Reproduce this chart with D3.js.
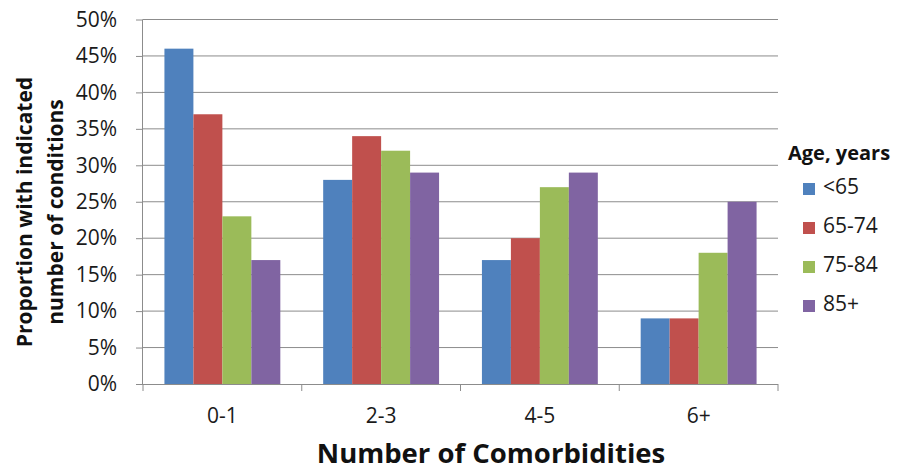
<!DOCTYPE html>
<html>
<head>
<meta charset="utf-8">
<script src="https://cdn.jsdelivr.net/npm/d3@7"></script>
<style>
  body { margin: 0; background: #fff; }
  svg { display: block; font-family: "Open Sans", Lato, sans-serif; }
</style>
</head>
<body>
<svg id="chart" width="899" height="473"></svg>
<script>
// Comorbidity counts by age band
const categories = ["0-1", "2-3", "4-5", "6+"];
const seriesNames = ["<65", "65-74", "75-84", "85+"];
const under65 = [46, 28, 17, 9];
const age65to74 = [37, 34, 20, 9];
const age75to84 = [23, 32, 27, 18];
const age85plus = [17, 29, 29, 25];
const yTicks = [0, 5, 10, 15, 20, 25, 30, 35, 40, 45, 50];
const colors = ["#4F81BD", "#C0504D", "#9BBB59", "#8064A2"];

const seriesValues = [under65, age65to74, age75to84, age85plus];
const rows = categories.map((c, i) => ({
  category: c,
  values: seriesNames.map((s, j) => ({ series: s, value: seriesValues[j][i], idx: j }))
}));

const svg = d3.select("#chart");
const plotLeft = 143, plotRight = 778, plotTop = 19.5, plotBottom = 384;

const x0 = d3.scaleBand().domain(categories).range([plotLeft, plotRight]).padding(0);
const bw = x0.bandwidth();
const x1 = d3.scaleBand().domain(seriesNames).range([bw * 0.135, bw * 0.865]).padding(0);
const y = d3.scaleLinear().domain([0, 50]).range([plotBottom, plotTop]);
const color = d3.scaleOrdinal().domain(seriesNames).range(colors);

const gridColor = "#8c8c8c";
const textColor = "#1a1a1a";

// horizontal gridlines
svg.append("g")
  .selectAll("line")
  .data(yTicks.filter(d => d > 0))
  .join("line")
  .attr("x1", plotLeft).attr("x2", plotRight)
  .attr("y1", d => y(d)).attr("y2", d => y(d))
  .attr("stroke", gridColor).attr("stroke-width", 1);

// bars
svg.append("g")
  .selectAll("g")
  .data(rows)
  .join("g")
  .attr("transform", d => `translate(${x0(d.category)},0)`)
  .selectAll("rect")
  .data(d => d.values)
  .join("rect")
  .attr("x", d => x1(d.series))
  .attr("width", x1.bandwidth())
  .attr("y", d => y(d.value))
  .attr("height", d => y(0) - y(d.value))
  .attr("fill", d => color(d.series));

// y axis
const yAxis = svg.append("g")
  .attr("transform", `translate(${plotLeft},0)`)
  .call(d3.axisLeft(y).tickValues(yTicks).tickFormat(d => d + "%").tickSize(7).tickPadding(19));
yAxis.attr("font-size", 21).attr("font-family", "'Open Sans', sans-serif");
yAxis.select(".domain").attr("stroke", gridColor).attr("d", `M-0.5,${plotTop}V${plotBottom}`);
yAxis.selectAll(".tick line").attr("stroke", gridColor);
yAxis.selectAll(".tick text").attr("fill", textColor);

// x axis
const xAxis = svg.append("g")
  .attr("transform", `translate(0,${plotBottom})`)
  .call(d3.axisBottom(x0).tickSize(0).tickPadding(24));
xAxis.attr("font-size", 21).attr("font-family", "'Open Sans', sans-serif");
xAxis.select(".domain").attr("stroke", gridColor).attr("d", `M${plotLeft},0.5H${plotRight}`);
xAxis.selectAll(".tick text").attr("fill", textColor);
// category boundary ticks
svg.append("g")
  .selectAll("line")
  .data(categories.concat(["end"]))
  .join("line")
  .attr("x1", (d, i) => plotLeft + i * bw).attr("x2", (d, i) => plotLeft + i * bw)
  .attr("y1", plotBottom).attr("y2", plotBottom + 7)
  .attr("stroke", gridColor);

// axis titles
svg.append("text")
  .attr("transform", `translate(32,212) rotate(-90)`)
  .attr("text-anchor", "middle")
  .attr("font-size", 21).attr("font-weight", "bold").attr("fill", "#111")
  .text("Proportion with indicated");
svg.append("text")
  .attr("transform", `translate(63,212) rotate(-90)`)
  .attr("text-anchor", "middle")
  .attr("font-size", 21).attr("font-weight", "bold").attr("fill", "#111")
  .text("number of conditions");

svg.append("text")
  .attr("x", 491).attr("y", 463)
  .attr("text-anchor", "middle")
  .attr("font-size", 27.5).attr("font-weight", "bold").attr("fill", "#111")
  .text("Number of Comorbidities");

// legend
const legend = svg.append("g");
legend.append("text")
  .attr("x", 788).attr("y", 160)
  .attr("font-size", 20).attr("font-weight", "bold").attr("fill", "#111")
  .text("Age, years");
const items = legend.selectAll("g.item")
  .data(seriesNames)
  .join("g")
  .attr("class", "item")
  .attr("transform", (d, i) => `translate(803,${189 + i * 39})`);
items.append("rect")
  .attr("x", 0).attr("y", -6).attr("width", 12).attr("height", 12)
  .attr("fill", d => color(d));
items.append("text")
  .attr("x", 20).attr("y", 5)
  .attr("font-size", 21).attr("fill", textColor)
  .text(d => d);
</script>
</body>
</html>
